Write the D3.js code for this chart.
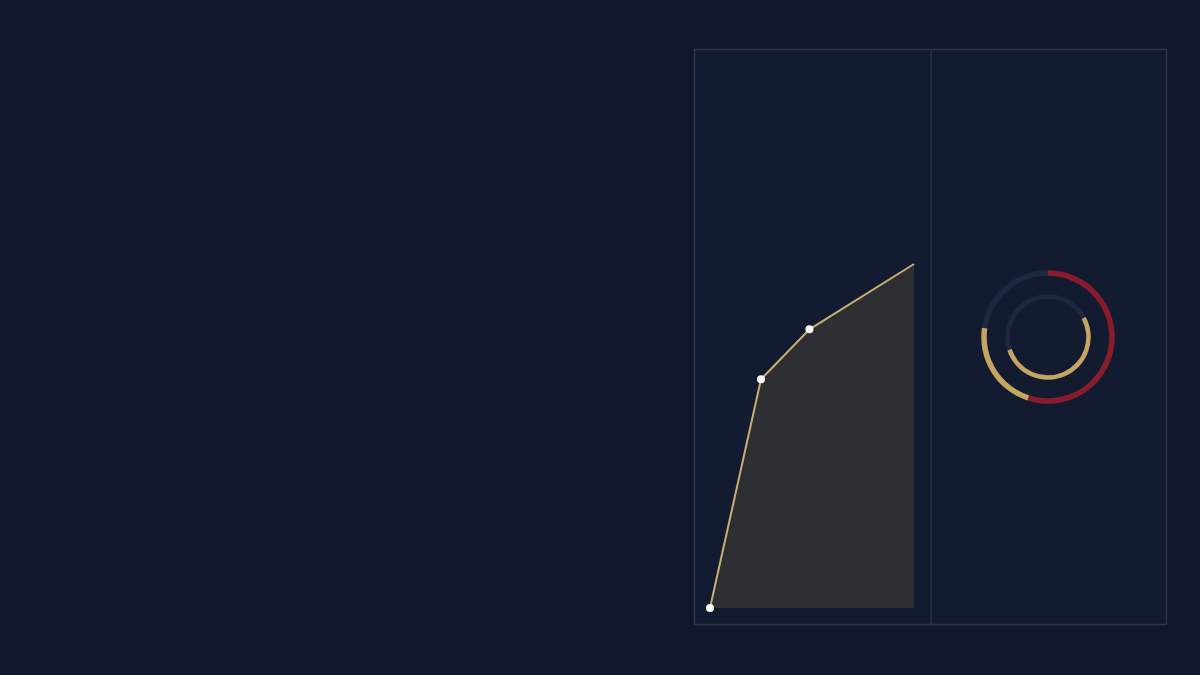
<!DOCTYPE html>
<html>
<head>
<meta charset="utf-8">
<script src="https://cdn.jsdelivr.net/npm/d3@7"></script>
<style>
  html, body { margin: 0; padding: 0; background: #101828; }
  svg { display: block; }
</style>
</head>
<body>
<div id="chart"></div>
<script>
// area series
const steps = [0, 1, 1.95, 4];
const values = [0, 66.5, 81, 100];
const markerSteps = [0, 1, 1.95];

// ring gauges: start / end as fraction of a full turn, clockwise from 12 o'clock
const outerSegments = [
    {name: "red", start: 0, end: 0.55},
    {name: "gold", start: 0.55, end: 0.772}
];
const innerSegments = [
    {name: "gold", start: 0.172, end: 0.699}
];

const width = 1200, height = 675;
const svg = d3.select("#chart").append("svg")
    .attr("width", width)
    .attr("height", height);

svg.append("rect")
    .attr("width", width)
    .attr("height", height)
    .attr("fill", "#10182a");

// panel frame
const panel = {x: 694.5, y: 49.5, w: 472, h: 575, split: 931};
svg.append("rect")
    .attr("x", panel.x).attr("y", panel.y)
    .attr("width", panel.w).attr("height", panel.h)
    .attr("fill", "#131b30")
    .attr("stroke", "#2c3549")
    .attr("stroke-width", 1.5);
svg.append("line")
    .attr("x1", panel.split).attr("x2", panel.split)
    .attr("y1", panel.y).attr("y2", panel.y + panel.h)
    .attr("stroke", "#262f44")
    .attr("stroke-width", 1.5);

// area chart
const x = d3.scaleLinear().domain([0, 4]).range([710, 914]);
const y = d3.scaleLinear().domain([0, 100]).range([608, 264]);
const pts = steps.map((s, i) => ({s: s, v: values[i]}));

svg.append("path")
    .datum(pts)
    .attr("fill", "#2e2f33")
    .attr("d", d3.area().x(d => x(d.s)).y0(y(0)).y1(d => y(d.v)));

svg.append("path")
    .datum(pts)
    .attr("fill", "none")
    .attr("stroke", "#c9ad72")
    .attr("stroke-width", 2)
    .attr("d", d3.line().x(d => x(d.s)).y(d => y(d.v)));

svg.selectAll(".marker")
    .data(pts.filter(d => markerSteps.includes(d.s)))
    .enter().append("circle")
    .attr("class", "marker")
    .attr("cx", d => x(d.s))
    .attr("cy", d => y(d.v))
    .attr("r", 4)
    .attr("fill", "#ffffff");

// rings
const colors = {red: "#8a1b2c", gold: "#c5a560"};
const g = svg.append("g").attr("transform", "translate(1048,337)");
const turn = d3.scaleLinear().domain([0, 1]).range([0, 2 * Math.PI]);

function ring(radius, thick, segments) {
    const arc = d3.arc().innerRadius(radius - thick / 2).outerRadius(radius + thick / 2);
    g.append("path")
        .attr("fill", "#1f2840")
        .attr("d", arc({startAngle: 0, endAngle: 2 * Math.PI}));
    g.selectAll(null)
        .data(segments)
        .enter().append("path")
        .attr("fill", d => colors[d.name])
        .attr("d", d => arc({startAngle: turn(d.start), endAngle: turn(d.end)}));
}
ring(64, 5.5, outerSegments);
ring(40.5, 4.5, innerSegments);
</script>
</body>
</html>
